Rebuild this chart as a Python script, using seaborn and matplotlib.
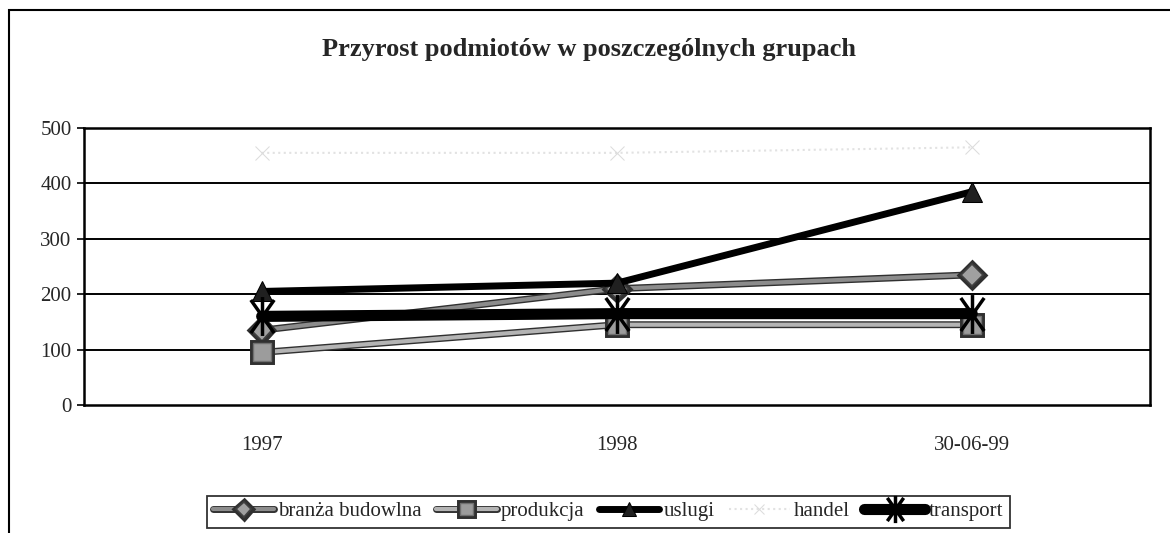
import pandas as pd
import matplotlib.pyplot as plt
import matplotlib.patheffects as pe
from matplotlib.patches import Rectangle
from matplotlib.path import Path
import seaborn as sns

# values
okresy = ['1997', '1998', '30-06-99']
branza = [135, 210, 235]
produkcja = [95, 145, 145]
uslugi = [205, 220, 385]
handel = [455, 455, 465]
transport = [160, 165, 165]
y_ticks = [0, 100, 200, 300, 400, 500]

sns.set_style('white')
plt.rcParams['font.family'] = ['Liberation Serif', 'DejaVu Serif']

# Excel-like asterisk: vertical stroke plus two steep diagonals
gwiazdka = Path([(0, -1), (0, 1), (-0.6, -0.85), (0.6, 0.85), (-0.6, 0.85), (0.6, -0.85)],
                [Path.MOVETO, Path.LINETO, Path.MOVETO, Path.LINETO, Path.MOVETO, Path.LINETO])

fig = plt.figure(figsize=(11.7, 5.33), dpi=100)
ax = fig.add_axes([0.0718, 0.240, 0.911, 0.520])

# outer chart frame, cut off at right and bottom like the scan
fig.patches.append(Rectangle((9 / 1170, -0.05), 1.2, 1 - 10 / 533 + 0.05,
                             transform=fig.transFigure, fill=False,
                             edgecolor='black', linewidth=1.5, zorder=0))

for v in y_ticks[1:]:
    ax.axhline(v, color='black', linewidth=1.4, zorder=1)

outline = [pe.Stroke(linewidth=5, foreground='#303030'), pe.Normal()]

series = [
    ('branża budowlna', branza, dict(color='#8c8c8c', lw=3, marker='D', ms=11,
                                      mfc='#a0a0a0', mec='#404040', mew=1.2), outline),
    ('produkcja', produkcja, dict(color='#b4b4b4', lw=3, marker='s', ms=13,
                                  mfc='#9c9c9c', mec='#707070', mew=1), outline),
    ('uslugi', uslugi, dict(color='black', lw=5, marker='^', ms=15,
                            mfc='#202020', mec='black'), None),
    ('handel', handel, dict(color='#e2e2e2', lw=1.5, ls=':', marker='x', ms=10,
                            mec='#dcdcdc'), None),
    ('transport', transport, dict(color='black', lw=8, marker=gwiazdka, ms=28,
                                  mec='black', mew=2.5), None),
]

x = list(range(len(okresy)))
for name, vals, st, eff in series:
    df = pd.DataFrame({'x': x, 'y': vals})
    sns.lineplot(data=df, x='x', y='y', ax=ax, label=name, zorder=3, **st)
    if eff is not None:
        ax.lines[-1].set_path_effects(eff)

ax.set_xlim(-0.5, 2.5)
ax.set_ylim(0, 500)
ax.set_xticks(x)
ax.set_xticklabels(okresy, fontsize=15)
ax.set_xticks([-0.5, 0.5, 1.5, 2.5], minor=True)
ax.tick_params(axis='x', which='major', length=0, pad=22)
ax.tick_params(axis='x', which='minor', length=6, width=1.2, direction='out', color='black')
ax.set_yticks(y_ticks)
ax.set_yticklabels([str(v) for v in y_ticks], fontsize=15)
ax.tick_params(axis='y', length=5, width=1.2, direction='out', color='black', left=True, pad=4)
ax.set_xlabel('')
ax.set_ylabel('')
for s in ax.spines.values():
    s.set_visible(True)
    s.set_color('black')
    s.set_linewidth(1.8)

fig.text(0.503, 0.907, 'Przyrost podmiotów w poszczególnych grupach',
         ha='center', va='center', fontsize=19, fontweight='bold')

leg = ax.legend(loc='center', bbox_to_anchor=(0.520, 0.040), bbox_transform=fig.transFigure,
                ncol=5, frameon=True, fancybox=False, fontsize=15, handlelength=2.9,
                handletextpad=0.2, columnspacing=0.7, borderpad=0.3, markerscale=0.7)
leg.get_frame().set_edgecolor('black')
leg.get_frame().set_linewidth(1.3)

plt.savefig('out.png', dpi=100)
